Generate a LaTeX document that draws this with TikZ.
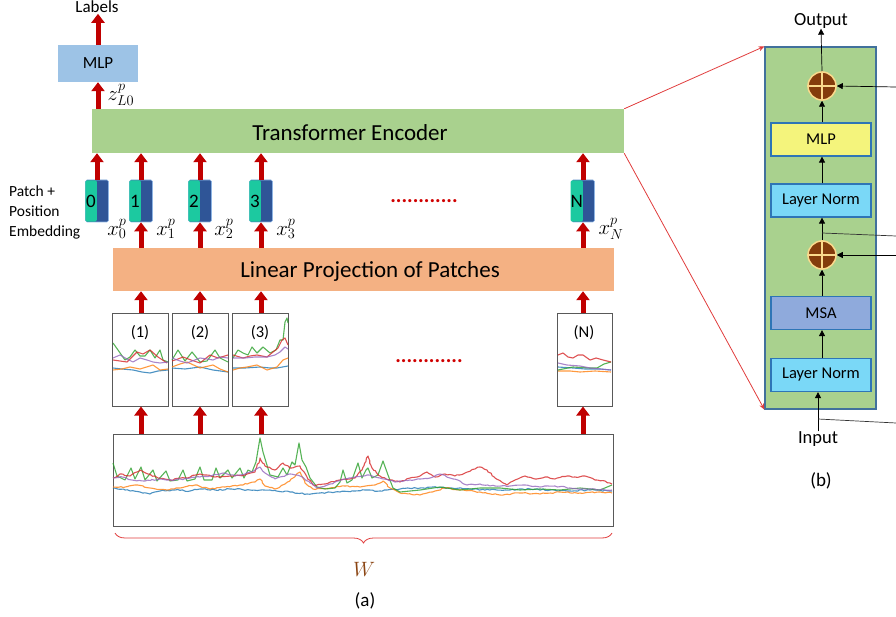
\documentclass[tikz,border=0pt]{standalone}
\usepackage{fontspec}
\setmainfont{Carlito}
\usetikzlibrary{arrows.meta,decorations.pathreplacing,decorations.pathmorphing}
\definecolor{arrred}{HTML}{C00000}
\definecolor{mlpblue}{HTML}{9DC3E6}
\definecolor{tegreen}{HTML}{A9D18E}
\definecolor{lporange}{HTML}{F4B183}
\definecolor{tokteal}{HTML}{1CC9A0}
\definecolor{tokblue}{HTML}{2F5597}
\definecolor{tokedge}{HTML}{8EB4E3}
\definecolor{paneledge}{HTML}{41719C}
\definecolor{boxedge}{HTML}{2E75B6}
\definecolor{mlpyellow}{HTML}{F4F47C}
\definecolor{lncyan}{HTML}{7AD8F7}
\definecolor{msablue}{HTML}{8FAADC}
\definecolor{sumbrown}{HTML}{843C0C}
\definecolor{sumedge}{HTML}{FAD98C}
\definecolor{wbrown}{HTML}{8B4513}
\definecolor{thinred}{HTML}{E03C3C}
\definecolor{dotred}{HTML}{D00000}
\definecolor{cblue}{HTML}{1F77B4}
\definecolor{corange}{HTML}{FF7F0E}
\definecolor{cgreen}{HTML}{2CA02C}
\definecolor{cred}{HTML}{D62728}
\definecolor{cpurple}{HTML}{9467BD}
\newcommand\myfs[1]{\fontsize{#1}{#1}\selectfont}
\begin{document}
\begin{tikzpicture}[x=1pt,y=-1pt,
  redarr/.style={draw=arrred, line width=5pt, -{Triangle[width=13pt,length=9pt]}},
  blkarr/.style={draw=black, line width=0.7pt, -{Triangle[width=6pt,length=6pt]}},
  blkline/.style={draw=black!80, line width=0.7pt},
  thinarr/.style={draw=thinred, line width=0.8pt, -{Stealth[width=5pt,length=6pt]}},
  patchbox/.style={draw=black!65, line width=1pt, minimum width=56, minimum height=92, inner sep=0pt},
  tokbox/.style={draw=tokedge, fill=tokblue, line width=0.6pt, rounded corners=1.5pt, minimum width=23, minimum height=42, inner sep=0pt},
  tokleft/.style={fill=tokteal, rounded corners=1.5pt, minimum width=11.5, minimum height=41.4, inner sep=0pt, anchor=east, font=\myfs{19}},
  panelbox/.style={draw=boxedge, line width=1.2pt, minimum width=100, minimum height=33, inner sep=0pt, font=\myfs{16.5}},
  sumnode/.style={circle, fill=sumbrown, draw=sumedge, line width=1.5pt, minimum size=28, inner sep=0pt},
  plusline/.style={draw=sumedge, line width=1.5pt},
  ts/.style={line width=1.1pt, opacity=0.8, line join=round, decorate, decoration={random steps, segment length=2.5pt, amplitude=0.7pt}},
  tsp/.style={line width=1.1pt, opacity=0.8, line join=round},
  lbl/.style={inner sep=0pt},
  mathlbl/.style={inner sep=0pt, font=\myfs{22}},
  dots/.style={inner sep=0pt, text=dotred, font=\myfs{21}\bfseries}
]
\pgfmathsetseed{7}
\useasboundingbox (0,0) rectangle (896,617);

% ---------------- left part (a) ----------------
\node[lbl, font=\myfs{17}] (labels) at (97,7) {Labels};
\node[fill=mlpblue, minimum width=80, minimum height=37, inner sep=0pt, font=\myfs{17}] (mlp) at (98,63.5) {MLP};
\node[fill=tegreen, minimum width=532, minimum height=44, inner sep=0pt] (te) at (358,131) {};
\node[lbl, font=\myfs{23}] (tetext) at (350,133) {Transformer Encoder};
\node[fill=lporange, minimum width=501, minimum height=43, inner sep=0pt] (lp) at (363.5,269.5) {};
\node[lbl, font=\myfs{23}] (lptext) at (370,271) {Linear Projection of Patches};

\draw[redarr] (mlp.north) -- ++(0,-31);
\draw[redarr] (te.north -| mlp) -- (mlp.south);
\node[mathlbl] (zlab) at (121,95) {$z_{L0}^{p}$};

% tokens
\foreach \n/\x/\t in {t0/97/0, t1/141/1, t2/200/2, t3/261/3, tN/583/N}{
  \node[tokbox] (\n) at (\x,201) {};
  \node[tokleft] (\n l) at (\n.center) {\t};
  \draw[redarr] (\n.north) -- (te.south -| \n);
}
\node[mathlbl] (x0) at (117,229) {$x_{0}^{p}$};
\node[mathlbl] (x1) at (166,229) {$x_{1}^{p}$};
\node[mathlbl] (x2) at (224,229) {$x_{2}^{p}$};
\node[mathlbl] (x3) at (286,229) {$x_{3}^{p}$};
\node[mathlbl] (xN) at (611,229) {$x_{N}^{p}$};
\node[lbl, font={\fontsize{15.5}{20}\selectfont}, align=left, anchor=west] (pe) at (9,212) {Patch +\\Position\\Embedding};
\node[dots] (dots1) at (424,201) {............};

% patches
\node[patchbox] (p1) at (140.5,360) {};
\node[patchbox] (p2) at (200,360) {};
\node[patchbox] (p3) at (260,360) {};
\node[patchbox, minimum width=55] (pN) at (584.5,360) {};
\node[lbl, font=\myfs{16.5}] (p1t) at (140,333) {(1)};
\node[lbl, font=\myfs{16.5}] (p2t) at (200,333) {(2)};
\node[lbl, font=\myfs{16.5}] (p3t) at (260,333) {(3)};
\node[lbl, font=\myfs{16.5}] (pNt) at (584,333) {(N)};
\node[dots] (dots2) at (429,361) {............};

\node[draw=black!65, line width=1pt, minimum width=500, minimum height=92, inner sep=0pt] (big) at (363,480) {};

\foreach \n/\p in {t1/p1, t2/p2, t3/p3, tN/pN}{
  \draw[redarr] (lp.north -| \n) -- (\n.south);
  \draw[redarr] (\p.north -| \n) -- (lp.south -| \n);
  \draw[redarr] (big.north -| \n) -- (\p.south -| \n);
}

% patch series
\draw[tsp, cblue] (113,368) -- (122,369) -- (133,370) -- (142,372) -- (150,373) -- (158,371) -- (168,370);
\draw[tsp, corange] (113,370) -- (122,369) -- (130,367) -- (140,369) -- (153,365) -- (160,370) -- (168,369);
\draw[tsp, cgreen] (113,343) -- (118,350) -- (125,360) -- (130,357) -- (135,350) -- (140,356) -- (145,356) -- (150,350) -- (155,358) -- (160,350) -- (163,360) -- (168,362);
\draw[tsp, cred] (113,360) -- (120,361) -- (127,362) -- (132,357) -- (137,352) -- (143,354) -- (150,350) -- (158,357) -- (167,363);
\draw[tsp, cpurple] (113,358) -- (120,355) -- (127,359) -- (133,362) -- (140,358) -- (147,360) -- (153,362) -- (160,363) -- (168,362);

\draw[tsp, cblue] (172,368) -- (185,369) -- (200,367) -- (213,370) -- (228,372);
\draw[tsp, corange] (172,367) -- (180,364) -- (187,362) -- (200,368) -- (213,365) -- (220,369) -- (228,372);
\draw[tsp, cgreen] (172,360) -- (178,350) -- (185,361) -- (192,352) -- (200,362) -- (207,361) -- (215,350) -- (220,358) -- (228,362);
\draw[tsp, cred] (172,361) -- (178,359) -- (183,357) -- (191,360) -- (200,363) -- (210,355) -- (218,358) -- (228,355);
\draw[tsp, cpurple] (172,358) -- (180,361) -- (187,363) -- (200,358) -- (207,359) -- (213,360) -- (220,357) -- (228,358);

\draw[tsp, cblue] (233,368) -- (245,368) -- (260,367) -- (270,368) -- (277,368) -- (288,366);
\draw[tsp, corange] (233,370) -- (240,368) -- (247,367) -- (257,365) -- (267,370) -- (277,367) -- (283,360) -- (288,358);
\draw[tsp, cgreen] (233,358) -- (238,350) -- (243,353) -- (248,355) -- (252,347) -- (257,353) -- (263,347) -- (270,353) -- (276,350) -- (280,340) -- (283,340) -- (285,322) -- (287,318) -- (288,323);
\draw[tsp, cred] (233,355) -- (243,358) -- (250,356) -- (257,355) -- (267,357) -- (273,352) -- (278,348) -- (282,340) -- (285,338) -- (288,345);
\draw[tsp, cpurple] (233,358) -- (245,358) -- (255,357) -- (267,357) -- (275,355) -- (280,352) -- (285,347) -- (288,349);

\draw[tsp, cblue] (558,367) -- (573,368) -- (585,369) -- (600,369) -- (611,370);
\draw[tsp, corange] (558,371) -- (570,371) -- (580,372) -- (595,371) -- (611,372);
\draw[tsp, cgreen] (558,370) -- (573,367) -- (590,368) -- (597,368) -- (604,364) -- (611,362);
\draw[tsp, cpurple] (558,363) -- (567,365) -- (580,366) -- (590,368) -- (600,369) -- (611,370);
\draw[tsp, cred] (558,355) -- (563,353) -- (568,357) -- (573,358) -- (578,355) -- (583,355) -- (590,360) -- (596,358) -- (603,360) -- (611,362);

% big series
\draw[ts, cblue] (113,488) -- (125,490) -- (140,492) -- (150,494) -- (160,491) -- (175,490) -- (190,491) -- (200,489) -- (215,490) -- (230,489) -- (250,490) -- (270,490) -- (290,492) -- (307,494) -- (320,493) -- (340,492) -- (355,491) -- (367,490) -- (380,491) -- (400,489) -- (420,488) -- (433,487) -- (450,488) -- (470,489) -- (490,490) -- (510,490) -- (530,489) -- (550,490) -- (570,491) -- (590,490) -- (612,491);
\draw[ts, corange] (113,487) -- (125,487) -- (135,485) -- (150,488) -- (167,490) -- (180,488) -- (195,485) -- (210,489) -- (225,487) -- (240,485) -- (255,482) -- (260,479) -- (265,486) -- (275,489) -- (285,484) -- (293,478) -- (300,472) -- (305,483) -- (313,489) -- (330,488) -- (345,486) -- (360,487) -- (375,485) -- (383,481) -- (390,488) -- (400,493) -- (420,495) -- (435,491) -- (445,488) -- (460,490) -- (480,492) -- (500,495) -- (520,493) -- (540,494) -- (560,492) -- (580,493) -- (600,492) -- (612,493);
\draw[tsp, cgreen] (113,463) -- (117,476) -- (125,480) -- (131,468) -- (135,479) -- (141,467) -- (145,480) -- (153,470) -- (157,481) -- (166,471) -- (170,481) -- (178,480) -- (183,470) -- (187,481) -- (195,479) -- (200,467) -- (204,480) -- (212,480) -- (216,468) -- (220,478) -- (228,470) -- (232,478) -- (240,468) -- (244,478) -- (248,470) -- (252,472) -- (256,462) -- (260,438) -- (263,452) -- (266,462) -- (270,475) -- (278,477) -- (283,468) -- (287,475) -- (292,462) -- (295,465) -- (299,443) -- (302,460) -- (306,467) -- (310,478) -- (317,487) -- (325,489) -- (335,488) -- (340,482) -- (343,470) -- (347,483) -- (352,480) -- (358,463) -- (362,478) -- (366,470) -- (368,468) -- (372,478) -- (378,475) -- (383,461) -- (388,475) -- (393,488) -- (400,492) -- (420,490) -- (440,487) -- (460,490) -- (480,488) -- (500,488) -- (520,490) -- (540,489) -- (560,490) -- (580,488) -- (600,490) -- (612,485);
\draw[ts, cred] (113,478) -- (120,474) -- (130,476) -- (140,470) -- (148,474) -- (158,478) -- (170,480) -- (185,478) -- (200,474) -- (215,477) -- (230,476) -- (245,475) -- (255,472) -- (260,458) -- (265,466) -- (275,470) -- (283,463) -- (290,468) -- (300,466) -- (307,477) -- (313,485) -- (325,484) -- (340,480) -- (355,478) -- (362,470) -- (368,456) -- (372,468) -- (380,476) -- (390,480) -- (400,482) -- (410,478) -- (420,476) -- (427,472) -- (435,477) -- (445,474) -- (455,476) -- (465,473) -- (475,469) -- (480,467) -- (487,470) -- (495,478) -- (507,485) -- (515,480) -- (525,476) -- (535,479) -- (545,477) -- (555,479) -- (567,476) -- (575,477) -- (585,476) -- (595,480) -- (605,481) -- (612,484);
\draw[ts, cpurple] (113,478) -- (122,477) -- (132,480) -- (145,481) -- (160,479) -- (175,480) -- (190,478) -- (200,477) -- (210,476) -- (223,473) -- (235,476) -- (245,474) -- (255,470) -- (260,467) -- (265,473) -- (275,479) -- (290,474) -- (300,476) -- (310,483) -- (317,488) -- (330,484) -- (345,479) -- (355,477) -- (367,475) -- (380,478) -- (395,482) -- (410,480) -- (420,479) -- (430,478) -- (440,474) -- (450,478) -- (460,481) -- (467,485) -- (480,484) -- (495,486) -- (510,486) -- (525,485) -- (540,487) -- (555,486) -- (570,488) -- (590,489) -- (612,490);

% brace
\coordinate (bl) at (115,533);
\coordinate (br) at (612,533);
\draw[thinred, line width=0.8pt, decorate, decoration={brace, amplitude=10pt, aspect=0.5}] (br) -- (bl);
\node[lbl, font=\myfs{21}, text=wbrown] (W) at (364,569) {$W$};
\node[lbl, font=\myfs{19}] (acap) at (365,601) {(a)};

% ---------------- right part (b) ----------------
\node[fill=tegreen, draw=paneledge, line width=1.2pt, minimum width=111, minimum height=362, inner sep=0pt] (panel) at (820.5,228) {};
\draw[thinarr] (te.north east) -- (panel.north west);
\draw[thinarr] (te.south east) -- (panel.south west);

\node[sumnode] (c1) at (822,86) {};
\node[panelbox, fill=mlpyellow] (mlp2) at (821,139.5) {MLP};
\node[panelbox, fill=lncyan] (ln1) at (821,200.5) {Layer Norm};
\node[sumnode] (c2) at (822,255) {};
\node[panelbox, fill=msablue] (msa) at (821,313) {MSA};
\node[panelbox, fill=lncyan] (ln2) at (821,375) {Layer Norm};
\foreach \c in {c1,c2}{
  \draw[plusline] (\c.north) -- (\c.south);
  \draw[plusline] (\c.west) -- (\c.east);
}
\node[lbl, font=\myfs{18.5}] (out) at (821,21) {Output};
\node[lbl, font=\myfs{18.5}] (inp) at (818,439) {Input};
\node[lbl, font=\myfs{19}] (bcap) at (821,481) {(b)};

\coordinate (r1) at (896,87);
\coordinate (r2) at (896,236);
\coordinate (r3) at (896,255);
\coordinate (r4) at (896,423);
\coordinate (j2) at (822,233);
\coordinate (j4) at (818,419);

\draw[blkarr] (c1.north) -- (out.south);
\draw[blkarr] (r1) -- (c1.east);
\draw[blkarr] (mlp2.north -| c1) -- (c1.south);
\draw[blkarr] (ln1.north -| c1) -- (mlp2.south -| c1);
\draw[blkarr] (c2.north) -- (ln1.south -| c2);
\draw[blkline] (j2) -- (r2);
\draw[blkarr] (r3) -- (c2.east);
\draw[blkarr] (msa.north -| c2) -- (c2.south);
\draw[blkarr] (ln2.north -| c2) -- (msa.south -| c2);
\draw[blkarr] (inp.north) -- (ln2.south -| inp);
\draw[blkline] (j4) -- (r4);
\end{tikzpicture}
\end{document}
